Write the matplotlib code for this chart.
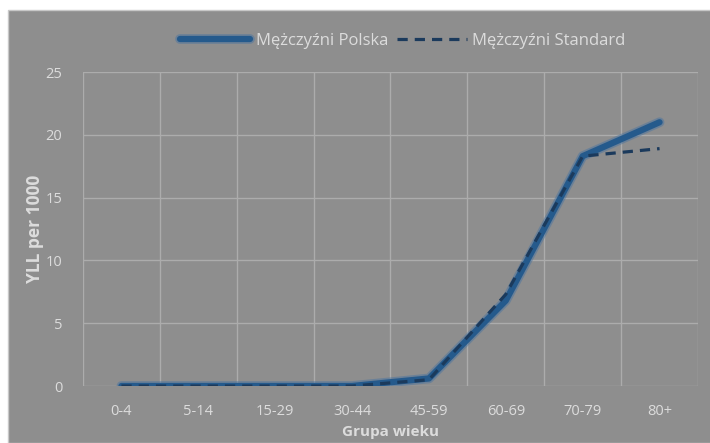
import matplotlib.pyplot as plt
import matplotlib.patheffects as pe
from matplotlib.patches import Rectangle
import numpy as np

groups = ["0-4", "5-14", "15-29", "30-44", "45-59", "60-69", "70-79", "80+"]
polska = [0, 0, 0, 0, 0.6, 6.8, 18.3, 21.0]
standard = [0, 0, 0, 0, 0.5, 7.3, 18.3, 18.9]
yticks = [0, 5, 10, 15, 20, 25]

plt.rcParams['font.family'] = ['Open Sans', 'DejaVu Sans']

bg = '#8e8e8e'
txt = '#dcdcdc'
grid_c = '#acacac'

fig = plt.figure(figsize=(7.1, 4.43), dpi=100)
fig.patch.set_facecolor('white')
fig.add_artist(Rectangle((8 / 710, 0), 1, 1 - 10 / 443, transform=fig.transFigure,
                         facecolor=bg, edgecolor='#c8c8c8', lw=1, zorder=-10))

ax = fig.add_axes([83 / 710, 1 - 386 / 443, (698 - 83) / 710, (386 - 72) / 443])
ax.set_facecolor(bg)
ax.patch.set_alpha(0)

x = np.arange(len(groups))
ax.plot(x, polska, color='#255a8c', lw=4.5, solid_capstyle='round', label='Mężczyźni Polska',
        path_effects=[pe.Stroke(linewidth=7, foreground='#4a74a0', alpha=0.5), pe.Normal()], zorder=3)
ax.plot(x, standard, color='#1b3a5c', lw=2.3, ls=(0, (3.2, 2.2)), label='Mężczyźni Standard', zorder=4)

ax.set_xlim(-0.5, len(groups) - 0.5)
ax.set_ylim(0, 25)
ax.set_yticks(yticks)
ax.set_xticks(x)
ax.set_xticklabels(groups)
ax.set_xticks(np.arange(-0.5, len(groups), 1), minor=True)
ax.grid(True, axis='y', color=grid_c, lw=1)
ax.grid(True, axis='x', which='minor', color=grid_c, lw=1)
ax.tick_params(which='both', length=0, colors=txt, labelsize=10.5)
ax.tick_params(axis='x', pad=13)
ax.tick_params(axis='y', pad=15)
for s in ax.spines.values():
    s.set_visible(False)

ax.set_ylabel('YLL per 1000', color=txt, fontsize=12.5, fontweight='bold', labelpad=1)
ax.set_xlabel('Grupa wieku', color=txt, fontsize=11, fontweight='bold', labelpad=4)

leg = ax.legend(loc='center', bbox_to_anchor=(0.52, 1.10), ncol=2, frameon=False,
                fontsize=12, handlelength=4.2, columnspacing=0.5, handletextpad=0.35)
for t in leg.get_texts():
    t.set_color(txt)

fig.savefig('out.png', dpi=100, facecolor=fig.get_facecolor())
